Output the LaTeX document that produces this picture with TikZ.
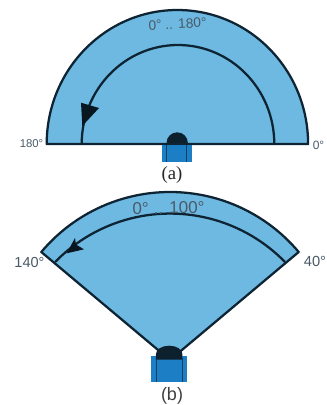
\documentclass[tikz,border=0pt]{standalone}
\usepackage{fontspec}
\setmainfont{Liberation Sans}
\newfontfamily\serifcap{Liberation Serif}
\definecolor{fan}{HTML}{6DB9E2}
\definecolor{box}{HTML}{1C7FC6}
\definecolor{ink}{HTML}{0E2433}
\definecolor{lab}{HTML}{4A5A66}
\tikzset{
  fanshape/.style={fill=fan,draw=ink,line width=1.7pt,line join=round},
  sweep/.style={draw=ink,line width=1.7pt},
  sensorbox/.style={fill=box,draw=none},
  sensorline/.style={draw=ink!70!box,line width=.6pt},
  dome/.style={fill=ink!90!black,draw=none},
  head/.style={fill=ink!60!black,draw=none},
  lbl/.style={text=lab,inner sep=0pt,font=#1},
}
\begin{document}
\begin{tikzpicture}[x=.75pt,y=-.75pt]
\useasboundingbox (0,0) rectangle (327,405);
\fill[white] (0,0) rectangle (327,405);
% (a)
\path[fanshape] (46.7,144) arc[start angle=180,end angle=0,x radius=130.7,y radius=-134] -- cycle;
\path[sweep] (274.3,144) arc[start angle=0,end angle=180,x radius=96.3,y radius=-99];
\fill[sensorbox] (161.7,144) rectangle (191.7,161.5);
\draw[sensorline] (166.7,144) -- (166.7,161.5) (186.7,144) -- (186.7,161.5);
\fill[dome] (166.5,144) -- (166.5,143) arc[start angle=180,end angle=0,x radius=10.7,y radius=-10.7] -- (187.9,144) -- cycle;
\draw[ink,line width=1.7pt] (46.7,144) -- (308,144);
\fill[head] (81,102.7) -- (99,108) -- (82.3,126) -- cycle;
\node[lbl=\fontsize{10.3pt}{12pt}\selectfont,rotate=3] (rangea) at (177.5,24) {0° .. 180°};
\node[lbl=\fontsize{8.5pt}{10pt}\selectfont] (lefta) at (31.5,144) {180°};
\node[lbl=\fontsize{9pt}{10pt}\selectfont] (righta) at (318.5,145) {0°};
\node[inner sep=0pt,text=black!85,font=\serifcap\fontsize{14pt}{15pt}\selectfont] (capa) at (172,175) {(a)};
% (b)
\path[fanshape] (170,360) -- (41.3,252) arc[start angle=140,end angle=40,radius=-168,y radius=-168,x radius=168] -- cycle;
\path[sweep] (285,262) arc[start angle=44.3,end angle=135.7,x radius=160.6,y radius=-160.6];
\fill[sensorbox] (150.7,355.7) rectangle (187.3,381.7);
\draw[sensorline] (156,358) -- (156,381.7) (182.3,358) -- (182.3,381.7);
\fill[dome] (156,359.5) -- (156,354) arc[start angle=180,end angle=0,x radius=13.2,y radius=-8.3] -- (182.4,359.5) -- cycle;
\fill[head] (66.7,253.3) -- (75,238) -- (76,244.5) -- (84,249.3) -- cycle;
\node[lbl=\fontsize{12.8pt}{14pt}\selectfont,rotate=1] (rangeb) at (168.5,208) {0° .. 100°};
\node[lbl=\fontsize{10.9pt}{12pt}\selectfont] (leftb) at (29.5,262) {140°};
\node[lbl=\fontsize{11pt}{12pt}\selectfont] (rightb) at (315,261.5) {40°};
\node[inner sep=0pt,text=black!75,font=\fontsize{13.5pt}{15pt}\selectfont] (capb) at (172,396) {(b)};
\end{tikzpicture}
\end{document}
